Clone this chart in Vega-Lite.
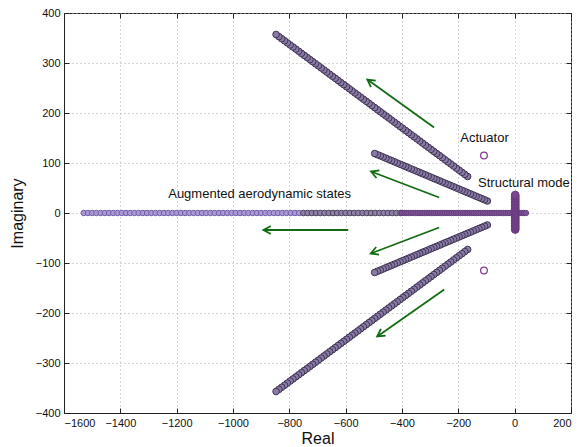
{
"$schema":"https://vega.github.io/schema/vega-lite/v6.json",
"width":507,"height":400,
"autosize":{"type":"none"},
"padding":{"left":64,"top":13,"right":16,"bottom":34},
"background":"white",
"config":{
 "view":{"stroke":"#222","strokeWidth":1},
 "axis":{"domainColor":"#222","tickColor":"#222","labelColor":"#111","labelFont":"Liberation Sans","labelFontSize":11,"titleFont":"Liberation Sans","titleFontSize":16,"titleFontWeight":"normal","titleColor":"#111","gridDash":[1,3],"gridColor":"#aaaaaa","tickSize":-5,"labelPadding":9,"format":"d"}
},
"datasets":{
 "steep":[
{"x":-167,"yp":73.0,"yn":-73.0},{"x":-177,"yp":77.2,"yn":-77.2},{"x":-187,"yp":81.4,"yn":-81.4},{"x":-197,"yp":85.5,"yn":-85.5},{"x":-207,"yp":89.7,"yn":-89.7},{"x":-217,"yp":93.9,"yn":-93.9},{"x":-227,"yp":98.1,"yn":-98.1},{"x":-237,"yp":102.2,"yn":-102.2},{"x":-247,"yp":106.4,"yn":-106.4},{"x":-257,"yp":110.6,"yn":-110.6},{"x":-267,"yp":114.8,"yn":-114.8},{"x":-277,"yp":118.9,"yn":-118.9},{"x":-287,"yp":123.1,"yn":-123.1},{"x":-297,"yp":127.3,"yn":-127.3},{"x":-307,"yp":131.5,"yn":-131.5},{"x":-317,"yp":135.6,"yn":-135.6},{"x":-327,"yp":139.8,"yn":-139.8},{"x":-337,"yp":144.0,"yn":-144.0},{"x":-347,"yp":148.2,"yn":-148.2},{"x":-357,"yp":152.4,"yn":-152.4},{"x":-367,"yp":156.5,"yn":-156.5},{"x":-377,"yp":160.7,"yn":-160.7},{"x":-387,"yp":164.9,"yn":-164.9},{"x":-397,"yp":169.1,"yn":-169.1},{"x":-407,"yp":173.2,"yn":-173.2},{"x":-417,"yp":177.4,"yn":-177.4},{"x":-427,"yp":181.6,"yn":-181.6},{"x":-437,"yp":185.8,"yn":-185.8},{"x":-447,"yp":189.9,"yn":-189.9},{"x":-457,"yp":194.1,"yn":-194.1},{"x":-467,"yp":198.3,"yn":-198.3},{"x":-477,"yp":202.5,"yn":-202.5},{"x":-487,"yp":206.6,"yn":-206.6},{"x":-497,"yp":210.8,"yn":-210.8},{"x":-507,"yp":215.0,"yn":-215.0},{"x":-517,"yp":219.2,"yn":-219.2},{"x":-527,"yp":223.4,"yn":-223.4},{"x":-537,"yp":227.5,"yn":-227.5},{"x":-547,"yp":231.7,"yn":-231.7},{"x":-557,"yp":235.9,"yn":-235.9},{"x":-567,"yp":240.1,"yn":-240.1},{"x":-577,"yp":244.2,"yn":-244.2},{"x":-587,"yp":248.4,"yn":-248.4},{"x":-597,"yp":252.6,"yn":-252.6},{"x":-607,"yp":256.8,"yn":-256.8},{"x":-617,"yp":260.9,"yn":-260.9},{"x":-627,"yp":265.1,"yn":-265.1},{"x":-637,"yp":269.3,"yn":-269.3},{"x":-647,"yp":273.5,"yn":-273.5},{"x":-657,"yp":277.6,"yn":-277.6},{"x":-667,"yp":281.8,"yn":-281.8},{"x":-677,"yp":286.0,"yn":-286.0},{"x":-687,"yp":290.2,"yn":-290.2},{"x":-697,"yp":294.4,"yn":-294.4},{"x":-707,"yp":298.5,"yn":-298.5},{"x":-717,"yp":302.7,"yn":-302.7},{"x":-727,"yp":306.9,"yn":-306.9},{"x":-737,"yp":311.1,"yn":-311.1},{"x":-747,"yp":315.2,"yn":-315.2},{"x":-757,"yp":319.4,"yn":-319.4},{"x":-767,"yp":323.6,"yn":-323.6},{"x":-777,"yp":327.8,"yn":-327.8},{"x":-787,"yp":331.9,"yn":-331.9},{"x":-797,"yp":336.1,"yn":-336.1},{"x":-807,"yp":340.3,"yn":-340.3},{"x":-817,"yp":344.5,"yn":-344.5},{"x":-827,"yp":348.6,"yn":-348.6},{"x":-837,"yp":352.8,"yn":-352.8},{"x":-847,"yp":357.0,"yn":-357.0}
 ],
 "mid":[
{"x":-97,"yp":24.0,"yn":-24.0},{"x":-107,"yp":26.4,"yn":-26.4},{"x":-117,"yp":28.8,"yn":-28.8},{"x":-127,"yp":31.1,"yn":-31.1},{"x":-137,"yp":33.5,"yn":-33.5},{"x":-147,"yp":35.9,"yn":-35.9},{"x":-157,"yp":38.3,"yn":-38.3},{"x":-167,"yp":40.6,"yn":-40.6},{"x":-177,"yp":43.0,"yn":-43.0},{"x":-187,"yp":45.4,"yn":-45.4},{"x":-197,"yp":47.8,"yn":-47.8},{"x":-207,"yp":50.1,"yn":-50.1},{"x":-217,"yp":52.5,"yn":-52.5},{"x":-227,"yp":54.9,"yn":-54.9},{"x":-237,"yp":57.3,"yn":-57.3},{"x":-247,"yp":59.6,"yn":-59.6},{"x":-257,"yp":62.0,"yn":-62.0},{"x":-267,"yp":64.4,"yn":-64.4},{"x":-277,"yp":66.8,"yn":-66.8},{"x":-287,"yp":69.1,"yn":-69.1},{"x":-297,"yp":71.5,"yn":-71.5},{"x":-307,"yp":73.9,"yn":-73.9},{"x":-317,"yp":76.3,"yn":-76.3},{"x":-327,"yp":78.6,"yn":-78.6},{"x":-337,"yp":81.0,"yn":-81.0},{"x":-347,"yp":83.4,"yn":-83.4},{"x":-357,"yp":85.8,"yn":-85.8},{"x":-367,"yp":88.1,"yn":-88.1},{"x":-377,"yp":90.5,"yn":-90.5},{"x":-387,"yp":92.9,"yn":-92.9},{"x":-397,"yp":95.3,"yn":-95.3},{"x":-407,"yp":97.6,"yn":-97.6},{"x":-417,"yp":100.0,"yn":-100.0},{"x":-427,"yp":102.4,"yn":-102.4},{"x":-437,"yp":104.8,"yn":-104.8},{"x":-447,"yp":107.1,"yn":-107.1},{"x":-457,"yp":109.5,"yn":-109.5},{"x":-467,"yp":111.9,"yn":-111.9},{"x":-477,"yp":114.3,"yn":-114.3},{"x":-487,"yp":116.6,"yn":-116.6},{"x":-497,"yp":119.0,"yn":-119.0}
 ],
 "hfar":[
{"x":-1530,"y":0},{"x":-1515,"y":0},{"x":-1500,"y":0},{"x":-1485,"y":0},{"x":-1470,"y":0},{"x":-1455,"y":0},{"x":-1440,"y":0},{"x":-1425,"y":0},{"x":-1410,"y":0},{"x":-1395,"y":0},{"x":-1380,"y":0},{"x":-1365,"y":0},{"x":-1350,"y":0},{"x":-1335,"y":0},{"x":-1320,"y":0},{"x":-1305,"y":0},{"x":-1290,"y":0},{"x":-1275,"y":0},{"x":-1260,"y":0},{"x":-1245,"y":0},{"x":-1230,"y":0},{"x":-1215,"y":0},{"x":-1200,"y":0},{"x":-1185,"y":0},{"x":-1170,"y":0},{"x":-1155,"y":0},{"x":-1140,"y":0},{"x":-1125,"y":0},{"x":-1110,"y":0},{"x":-1095,"y":0},{"x":-1080,"y":0},{"x":-1065,"y":0},{"x":-1050,"y":0},{"x":-1035,"y":0},{"x":-1020,"y":0},{"x":-1005,"y":0},{"x":-990,"y":0},{"x":-975,"y":0},{"x":-960,"y":0},{"x":-945,"y":0},{"x":-930,"y":0},{"x":-915,"y":0},{"x":-900,"y":0},{"x":-885,"y":0},{"x":-870,"y":0},{"x":-855,"y":0},{"x":-840,"y":0},{"x":-825,"y":0},{"x":-810,"y":0},{"x":-795,"y":0},{"x":-780,"y":0},{"x":-765,"y":0}
 ],
 "hmid":[
{"x":-750,"y":0},{"x":-735,"y":0},{"x":-720,"y":0},{"x":-705,"y":0},{"x":-690,"y":0},{"x":-675,"y":0},{"x":-660,"y":0},{"x":-645,"y":0},{"x":-630,"y":0},{"x":-615,"y":0},{"x":-600,"y":0},{"x":-585,"y":0},{"x":-570,"y":0},{"x":-555,"y":0},{"x":-540,"y":0},{"x":-525,"y":0},{"x":-510,"y":0},{"x":-495,"y":0},{"x":-480,"y":0},{"x":-465,"y":0},{"x":-450,"y":0},{"x":-435,"y":0},{"x":-420,"y":0},{"x":-405,"y":0}
 ],
 "hnear":[
{"x":-400,"y":0},{"x":-392,"y":0},{"x":-384,"y":0},{"x":-376,"y":0},{"x":-368,"y":0},{"x":-360,"y":0},{"x":-352,"y":0},{"x":-344,"y":0},{"x":-336,"y":0},{"x":-328,"y":0},{"x":-320,"y":0},{"x":-312,"y":0},{"x":-304,"y":0},{"x":-296,"y":0},{"x":-288,"y":0},{"x":-280,"y":0},{"x":-272,"y":0},{"x":-264,"y":0},{"x":-256,"y":0},{"x":-248,"y":0},{"x":-240,"y":0},{"x":-232,"y":0},{"x":-224,"y":0},{"x":-216,"y":0},{"x":-208,"y":0},{"x":-200,"y":0},{"x":-192,"y":0},{"x":-184,"y":0},{"x":-176,"y":0},{"x":-168,"y":0},{"x":-160,"y":0},{"x":-152,"y":0},{"x":-144,"y":0},{"x":-136,"y":0},{"x":-128,"y":0},{"x":-120,"y":0},{"x":-112,"y":0},{"x":-104,"y":0},{"x":-96,"y":0},{"x":-88,"y":0},{"x":-80,"y":0},{"x":-72,"y":0},{"x":-64,"y":0},{"x":-56,"y":0},{"x":-48,"y":0},{"x":-40,"y":0},{"x":-32,"y":0},{"x":-24,"y":0},{"x":-16,"y":0},{"x":-8,"y":0},{"x":0,"y":0},{"x":8,"y":0},{"x":16,"y":0},{"x":24,"y":0},{"x":32,"y":0},{"x":40,"y":0}
 ],
 "struct":[
{"x":2,"y":-33},{"x":2,"y":-30},{"x":2,"y":-27},{"x":2,"y":-24},{"x":2,"y":-21},{"x":2,"y":-18},{"x":2,"y":-15},{"x":2,"y":-12},{"x":2,"y":-9},{"x":2,"y":-6},{"x":2,"y":-3},{"x":2,"y":0},{"x":2,"y":3},{"x":2,"y":6},{"x":2,"y":9},{"x":2,"y":12},{"x":2,"y":15},{"x":2,"y":18},{"x":2,"y":21},{"x":2,"y":24},{"x":2,"y":27},{"x":2,"y":30},{"x":2,"y":33},{"x":2,"y":36}
 ],
 "act":[{"x":-109,"y":115},{"x":-109,"y":-115}],
 "arrows":[
{"id":"A","x":-286,"y":171,"x2":-523,"y2":267},
{"id":"B","x":-268,"y":31,"x2":-510,"y2":83},
{"id":"C","x":-591,"y":-34,"x2":-892,"y2":-34},
{"id":"D","x":-268,"y":-29,"x2":-511,"y2":-81},
{"id":"E","x":-250,"y":-153,"x2":-488,"y2":-247}
 ],
 "labels":[
{"x":-107,"y":150,"text":"Actuator","al":"center"},
{"x":-130,"y":61,"text":"Structural mode","al":"left"},
{"x":-1230,"y":39,"text":"Augmented aerodynamic states","al":"left"}
 ]
},
"layer":[
 {
  "layer":[
   {"data":{"name":"steep"},"transform":[{"fold":["yp","yn"],"as":["branch","y"]}],
    "mark":{"type":"point","filled":true,"fill":"#8a7aa8","stroke":"#3e3450","strokeWidth":1,"size":44,"opacity":1},
    "encoding":{
      "x":{"field":"x","type":"quantitative","scale":{"domain":[-1600,200],"nice":false,"zero":false},"axis":{"title":"Real","values":[-1600,-1400,-1200,-1000,-800,-600,-400,-200,0,200],"grid":true,"titlePadding":2}},
      "y":{"field":"y","type":"quantitative","scale":{"domain":[-400,400],"nice":false,"zero":false},"axis":{"title":"Imaginary","values":[-400,-300,-200,-100,0,100,200,300,400],"grid":true,"titlePadding":10}}
    }},
   {"data":{"name":"mid"},"transform":[{"fold":["yp","yn"],"as":["branch","y"]}],
    "mark":{"type":"point","filled":true,"fill":"#8a7aa8","stroke":"#3e3450","strokeWidth":1,"size":44,"opacity":1},
    "encoding":{"x":{"field":"x","type":"quantitative"},"y":{"field":"y","type":"quantitative"}}},
   {"data":{"name":"hfar"},
    "mark":{"type":"point","filled":true,"fill":"#ad98d6","stroke":"#6c5fa8","strokeWidth":1,"size":30,"opacity":1},
    "encoding":{"x":{"field":"x","type":"quantitative"},"y":{"field":"y","type":"quantitative"}}},
   {"data":{"name":"hmid"},
    "mark":{"type":"point","filled":true,"fill":"#8f7faa","stroke":"#4a4258","strokeWidth":1,"size":32,"opacity":1},
    "encoding":{"x":{"field":"x","type":"quantitative"},"y":{"field":"y","type":"quantitative"}}},
   {"data":{"name":"hnear"},
    "mark":{"type":"point","filled":true,"fill":"#80529a","stroke":"#5d3a72","strokeWidth":0.8,"size":30,"opacity":1},
    "encoding":{"x":{"field":"x","type":"quantitative"},"y":{"field":"y","type":"quantitative"}}},
   {"data":{"name":"struct"},
    "mark":{"type":"point","filled":true,"fill":"#7a4590","stroke":"#6a3a80","strokeWidth":1,"size":60,"opacity":1},
    "encoding":{"x":{"field":"x","type":"quantitative"},"y":{"field":"y","type":"quantitative"}}},
   {"data":{"name":"act"},
    "mark":{"type":"point","filled":false,"stroke":"#8b3a95","strokeWidth":1.3,"size":45,"opacity":1},
    "encoding":{"x":{"field":"x","type":"quantitative"},"y":{"field":"y","type":"quantitative"}}},
   {"data":{"name":"arrows"},
    "mark":{"type":"rule","color":"#136b13","strokeWidth":1.8},
    "encoding":{"x":{"field":"x","type":"quantitative"},"y":{"field":"y","type":"quantitative"},"x2":{"field":"x2"},"y2":{"field":"y2"}}},
   {"data":{"name":"arrows"},"transform":[{"filter":"datum.id=='A'"}],
    "mark":{"type":"point","shape":"M-0.55,1L0,0L0.55,1","filled":false,"stroke":"#136b13","strokeWidth":1.8,"size":220,"angle":306,"opacity":1},
    "encoding":{"x":{"field":"x2","type":"quantitative"},"y":{"field":"y2","type":"quantitative"}}},
   {"data":{"name":"arrows"},"transform":[{"filter":"datum.id=='B'"}],
    "mark":{"type":"point","shape":"M-0.55,1L0,0L0.55,1","filled":false,"stroke":"#136b13","strokeWidth":1.8,"size":220,"angle":291,"opacity":1},
    "encoding":{"x":{"field":"x2","type":"quantitative"},"y":{"field":"y2","type":"quantitative"}}},
   {"data":{"name":"arrows"},"transform":[{"filter":"datum.id=='C'"}],
    "mark":{"type":"point","shape":"M-0.55,1L0,0L0.55,1","filled":false,"stroke":"#136b13","strokeWidth":1.8,"size":220,"angle":270,"opacity":1},
    "encoding":{"x":{"field":"x2","type":"quantitative"},"y":{"field":"y2","type":"quantitative"}}},
   {"data":{"name":"arrows"},"transform":[{"filter":"datum.id=='D'"}],
    "mark":{"type":"point","shape":"M-0.55,1L0,0L0.55,1","filled":false,"stroke":"#136b13","strokeWidth":1.8,"size":220,"angle":249,"opacity":1},
    "encoding":{"x":{"field":"x2","type":"quantitative"},"y":{"field":"y2","type":"quantitative"}}},
   {"data":{"name":"arrows"},"transform":[{"filter":"datum.id=='E'"}],
    "mark":{"type":"point","shape":"M-0.55,1L0,0L0.55,1","filled":false,"stroke":"#136b13","strokeWidth":1.8,"size":220,"angle":235,"opacity":1},
    "encoding":{"x":{"field":"x2","type":"quantitative"},"y":{"field":"y2","type":"quantitative"}}},
   {"data":{"name":"labels"},"transform":[{"filter":"datum.al=='center'"}],
    "mark":{"type":"text","font":"Liberation Sans","fontSize":13,"color":"#111","align":"center","baseline":"middle"},
    "encoding":{"x":{"field":"x","type":"quantitative"},"y":{"field":"y","type":"quantitative"},"text":{"field":"text"}}},
   {"data":{"name":"labels"},"transform":[{"filter":"datum.al=='left'"}],
    "mark":{"type":"text","font":"Liberation Sans","fontSize":13,"color":"#111","align":"left","baseline":"middle"},
    "encoding":{"x":{"field":"x","type":"quantitative"},"y":{"field":"y","type":"quantitative"},"text":{"field":"text"}}}
  ]
 },
 {
  "data":{"name":"act"},
  "mark":{"type":"point","opacity":0},
  "encoding":{
   "x":{"field":"x","type":"quantitative","axis":{"orient":"top","labels":false,"title":null,"grid":false,"domain":false,"values":[-1600,-1400,-1200,-1000,-800,-600,-400,-200,0,200]}},
   "y":{"field":"y","type":"quantitative","axis":{"orient":"right","labels":false,"title":null,"grid":false,"domain":false,"values":[-400,-300,-200,-100,0,100,200,300,400]}}
  }
 }
],
"resolve":{"axis":{"x":"independent","y":"independent"}}
}
